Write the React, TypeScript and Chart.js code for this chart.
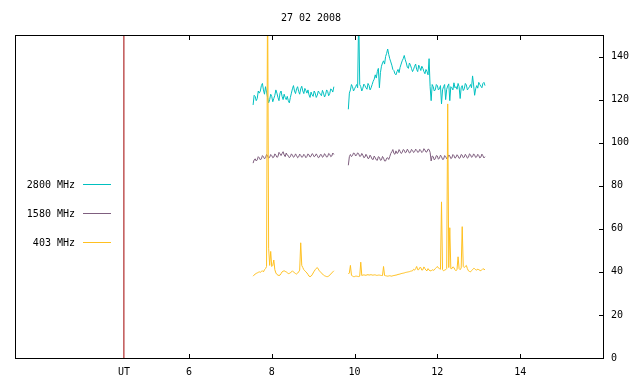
import { useEffect, useRef } from "react";
import { Chart, registerables } from "chart.js";

Chart.register(...registerables);

const chartTitle = "27 02 2008";
const seriesNames = ["2800 MHz", "1580 MHz", "403 MHz"];
const seriesColors = ["#00c0c0", "#7f5f7f", "#ffc020"];
const utMarkHour = 4.43;
const utMarkColor = "#a00000";
const xTickValues = [6, 8, 10, 12, 14];
const yTickValues = [0, 20, 40, 60, 80, 100, 120, 140];
const xMin = 1.8;
const xMax = 16;
const yMin = 0;
const yMax = 150;

const sampleStep = 0.025;
const seg1Start = 7.55;
const seg2Start = 9.85;

// 2800 MHz
const f2800a = [
  117.5, 122, 121.5, 119.5, 120.5, 124, 123, 124, 126.5, 127.5,
  124.5, 122.5, 126, 123.5, 121, 118.5, 120, 122.5, 121.5, 119,
  120.5, 122, 124.5, 123, 121, 119.5, 123, 124, 121.5, 120,
  122.5, 121, 120, 121.5, 119.5, 118.5, 121, 123, 125, 126.5,
  124, 122.8, 125, 126, 123.8, 122.5, 125, 126.2, 124, 122.8,
  125.2, 124.2, 123, 124.5, 122.2, 121, 123.5, 122.2, 121.5, 124,
  123, 121, 122, 124, 123.2, 122.5, 121.8, 124.3, 123, 121.2,
  122.3, 124.5, 123.8, 121.8, 122.8, 125, 124.5, 123.5, 126,
];
const f2800b = [
  115.5, 123, 124.5, 127, 126, 124, 125, 126, 127, 125.5,
  160, 127, 126, 124, 125.3, 127.2, 126.5, 125.5, 124.8, 127.5,
  126.6, 124.5, 125.5, 127, 128.5, 129.5, 131.5, 130, 133, 134.5,
  125.5, 132.5, 135.5, 137, 138, 136.5, 140, 141.5, 143.5, 141,
  139, 137.5, 136, 134, 133.5, 132, 131.5, 133, 134, 132.5,
  135, 136.5, 138, 139, 140.5, 138.5, 137, 135, 134.5, 137,
  136, 134.5, 133, 134, 135.5, 136.5, 134, 133, 136, 134.8,
  133.5, 135.5, 134.5, 133, 132, 134, 133, 131.5, 139, 126,
  119.5, 127, 126, 124, 124.5, 127, 126.5, 124.5, 125, 126.5,
  118, 124.5, 126, 127, 120, 124.8, 126.3, 127.3, 119.5, 126,
  125.5, 124.5, 127.8, 125.5, 126, 124.8, 127.5, 126, 120.5, 125.5,
  126.5, 124.2, 125, 127.5, 126.8, 124.5, 125.2, 126, 127, 125.5,
  131, 126.8, 122, 125, 126.5, 125.3, 128, 127, 126.2, 125.5,
  127.5, 128, 126.5,
];

// 1580 MHz
const f1580a = [
  90.5, 92, 92.5, 91.5, 92, 93.5, 93, 92, 92.5, 94,
  93.5, 92.5, 93, 94.5, 93.8, 92.8, 93.2, 94.5, 94, 93,
  93.3, 94.8, 94.2, 93.2, 93.5, 95.5, 94.8, 94, 95, 95.8,
  94.3, 93.5, 95.2, 94.2, 94, 93, 93.5, 94.8, 94.2, 93.2,
  93.6, 94.8, 94, 93, 93.4, 94.7, 94.1, 93.2, 93.5, 94.6,
  94, 93, 93.6, 94.8, 94.3, 93.3, 93.7, 94.9, 94.5, 93.4,
  93.8, 94.8, 94, 93, 93.3, 94.5, 94.4, 93.2, 93.6, 94.9,
  94.2, 93.3, 93.5, 95, 94.6, 93.5, 93.8, 95.2, 94.5,
];
const f1580b = [
  89.5, 93.5, 94.5, 93.5, 94, 95.2, 95, 93.8, 94.3, 95.3,
  94.8, 93.6, 93.8, 95, 94.2, 93, 93.3, 94.6, 93.8, 92.6,
  92.8, 94.2, 93.4, 92.3, 92.2, 93.8, 93, 92, 91.8, 93.5,
  93.2, 91.8, 92, 93.6, 92.8, 91.5, 91.5, 92.8, 93, 92.2,
  93.5, 95, 95.8, 96.8, 95, 94.6, 96.2, 95, 95.3, 96.8,
  96, 95, 95.4, 96.8, 96.5, 95.3, 95.6, 97, 96.2, 95.2,
  95.5, 96.9, 96.4, 95.4, 95.8, 97, 96.5, 95.5, 95.7, 96.9,
  96.3, 95.4, 95.9, 97.2, 96.6, 95.6, 95.8, 97, 96.8, 95.5,
  91.5, 93.8, 93.5, 92, 92.5, 94, 93.8, 92.3, 92.8, 94.2,
  93.5, 92.2, 92.3, 94, 93.6, 92.5, 93, 94.3, 93.8, 92.6,
  92.9, 94.5, 94, 92.8, 93.2, 94.4, 93.8, 92.7, 93, 94.5,
  94.2, 93, 93.3, 94.6, 93.9, 92.8, 93.2, 94.8, 94.4, 93.2,
  93.5, 94.8, 94.2, 93.1, 93.4, 94.6, 94, 92.9, 93.3, 94.7,
  93.9, 92.9, 93.5,
];

// 403 MHz
const f403a = [
  38, 38.5, 39, 39.3, 39.5, 39.8, 40, 39.8, 40.2, 40.5,
  40, 41, 41.5, 42.5, 175, 51, 43, 49.5, 42.5, 43,
  45.5, 41, 39.5, 38.8, 38.5, 38.3, 38.5, 39.2, 40, 40.3,
  40.5, 40.2, 40, 39.6, 39.2, 39.3, 39.5, 40, 40.5, 40,
  39.5, 39.2, 39, 39.4, 40, 40.8, 53.5, 43, 42, 41,
  40.5, 40, 39.5, 38.8, 38, 37.8, 38, 38.6, 39.5, 40.3,
  41, 41.6, 42, 41.3, 40.5, 40, 39.5, 39, 38.5, 38.2,
  38, 37.8, 37.8, 38, 38.5, 39, 39.5, 40, 40.5,
];
const f403b = [
  39, 39.5, 43, 38.5, 38, 37.8, 37.8, 38, 38, 37.9,
  37.8, 38, 44.5, 38.3, 38.5, 38.6, 38.5, 38.4, 38.6, 38.7,
  38.5, 38.6, 38.7, 38.5, 38.5, 38.6, 38.6, 38.4, 38.4, 38.5,
  38.5, 38.4, 38.3, 38.3, 42.5, 38.3, 38.2, 38.1, 38, 38.1,
  38.2, 38.1, 38, 38.2, 38.3, 38.4, 38.5, 38.6, 38.8, 38.9,
  39, 39.2, 39.3, 39.4, 39.5, 39.7, 39.8, 39.9, 40, 40.1,
  40.3, 40.4, 40.5, 41.2, 40.8, 41.5, 42.5, 41, 41, 42,
  42, 40.8, 41, 42.3, 41.5, 40.8, 40.5, 41.5, 40.8, 40.5,
  40.5, 41, 40.7, 40.9, 41.5, 42, 42.5, 41.8, 41.5, 41.2,
  72.5, 41, 40.5, 40.8, 41, 41.5, 118, 42, 60.5, 41.5,
  41.5, 42.3, 42, 41, 40.5, 41.2, 47, 41.5, 41, 41.8,
  61, 42.5, 42, 42.6, 43, 41.5, 40.5, 40.2, 40, 40.6,
  41, 41.6, 41.5, 41, 40.8, 41.3, 41, 40.7, 40.5, 41,
  41.5, 41.2, 41,
];

const FONT = "'DejaVu Sans Mono', monospace";

function toPoints(start: number, values: number[]) {
  return values.map((v, i) => ({ x: +(start + i * sampleStep).toFixed(3), y: v }));
}

const overlayPlugin = {
  id: "overlay",
  afterDraw(chart: any) {
    const ctx = chart.ctx as CanvasRenderingContext2D;
    const { left, top, right, bottom } = chart.chartArea;
    const xs = chart.scales.x;
    const ys = chart.scales.y;
    ctx.save();
    ctx.strokeStyle = "#000";
    ctx.lineWidth = 1;
    ctx.strokeRect(left + 0.5, top + 0.5, right - left, bottom - top);
    ctx.beginPath();
    for (const v of xTickValues) {
      const px = Math.round(xs.getPixelForValue(v)) + 0.5;
      ctx.moveTo(px, bottom);
      ctx.lineTo(px, bottom - 4);
      ctx.moveTo(px, top);
      ctx.lineTo(px, top + 5);
    }
    for (const v of yTickValues) {
      const py = Math.round(ys.getPixelForValue(v)) + 0.5;
      ctx.moveTo(right, py);
      ctx.lineTo(right - 4, py);
    }
    ctx.stroke();

    ctx.fillStyle = "#000";
    ctx.font = `10px ${FONT}`;
    ctx.textAlign = "center";
    ctx.textBaseline = "middle";
    ctx.fillText(chartTitle, 311, 18);

    const legendY = [184, 213, 242];
    seriesNames.forEach((name, i) => {
      ctx.textAlign = "right";
      ctx.fillStyle = "#000";
      ctx.fillText(name, 75, legendY[i] + 1);
      ctx.strokeStyle = seriesColors[i];
      ctx.beginPath();
      ctx.moveTo(83, legendY[i] + 0.5);
      ctx.lineTo(111, legendY[i] + 0.5);
      ctx.stroke();
    });
    ctx.restore();
  },
};

export default function App() {
  const canvasRef = useRef<HTMLCanvasElement | null>(null);

  useEffect(() => {
    const canvas = canvasRef.current;
    if (!canvas) return;
    const line = (data: any[], color: string) => ({
      data,
      borderColor: color,
      backgroundColor: color,
      borderWidth: 1,
      pointRadius: 0,
      tension: 0,
      fill: false,
    });
    const chart = new Chart(canvas, {
      type: "line",
      data: {
        datasets: [
          line([{ x: utMarkHour, y: yMin }, { x: utMarkHour, y: yMax }], utMarkColor),
          line(toPoints(seg1Start, f403a), seriesColors[2]),
          line(toPoints(seg2Start, f403b), seriesColors[2]),
          line(toPoints(seg1Start, f1580a), seriesColors[1]),
          line(toPoints(seg2Start, f1580b), seriesColors[1]),
          line(toPoints(seg1Start, f2800a), seriesColors[0]),
          line(toPoints(seg2Start, f2800b), seriesColors[0]),
        ],
      },
      options: {
        animation: false,
        responsive: false,
        maintainAspectRatio: false,
        layout: { padding: { left: 15, top: 35, right: 0, bottom: 0 } },
        plugins: { legend: { display: false }, tooltip: { enabled: false }, title: { display: false } },
        scales: {
          x: {
            type: "linear",
            position: "bottom",
            min: xMin,
            max: xMax,
            grid: { display: false, drawTicks: false },
            border: { display: false },
            ticks: {
              padding: 8,
              color: "#000",
              font: { family: FONT, size: 10 },
              autoSkip: false,
              maxRotation: 0,
              callback: (v: any) => (Math.abs(v - utMarkHour) < 1e-6 ? "UT" : String(v)),
            },
            afterBuildTicks: (s: any) => {
              s.ticks = [utMarkHour, ...xTickValues].map((v) => ({ value: v }));
            },
            afterFit: (s: any) => {
              s.height = 26;
            },
          },
          y: {
            type: "linear",
            position: "right",
            min: yMin,
            max: yMax,
            grid: { display: false, drawTicks: false },
            border: { display: false },
            ticks: {
              padding: 8,
              color: "#000",
              font: { family: FONT, size: 10 },
            },
            afterBuildTicks: (s: any) => {
              s.ticks = yTickValues.map((v) => ({ value: v }));
            },
            afterFit: (s: any) => {
              s.width = 37;
            },
          },
        },
      },
      plugins: [overlayPlugin],
    } as any);
    return () => chart.destroy();
  }, []);

  return (
    <div style={{ position: "fixed", left: 0, top: 0, width: 640, height: 384, background: "#fff" }}>
      <canvas ref={canvasRef} width={640} height={384} style={{ display: "block" }} />
    </div>
  );
}
